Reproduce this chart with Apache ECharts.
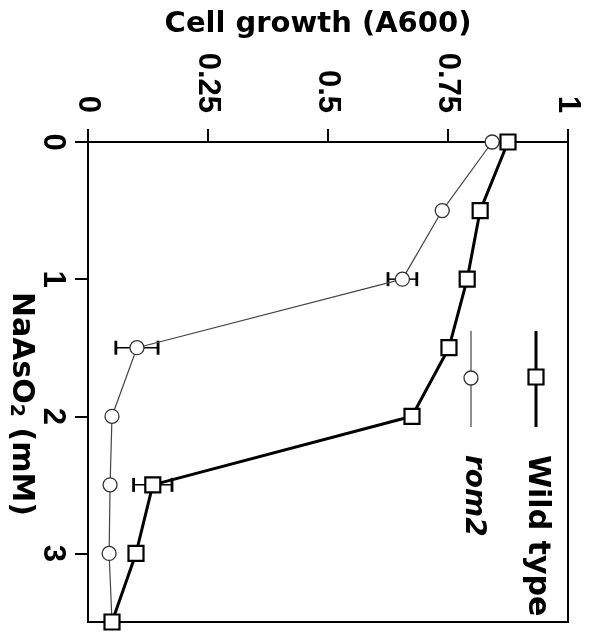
<!DOCTYPE html>
<html>
<head>
<meta charset="utf-8">
<script src="https://cdn.jsdelivr.net/npm/echarts@6/dist/echarts.min.js"></script>
<style>
  html, body { margin: 0; padding: 0; background: #fff; }
  #chart { width: 591px; height: 632px; }
</style>
</head>
<body>
<div id="chart"></div>
<script>
// ---- data ----
const dose = [0, 0.5, 1, 1.5, 2, 2.5, 3, 3.5];               // NaAsO2 (mM)
const wildType = [0.875, 0.817, 0.79, 0.752, 0.675, 0.135, 0.1, 0.05];
const rom2 = [0.842, 0.738, 0.655, 0.102, 0.05, 0.046, 0.044, 0.05];
const wildTypeErr = [0, 0, 0, 0, 0, 0.04, 0, 0];
const rom2Err = [0, 0, 0.03, 0.044, 0, 0, 0, 0];
const growthTicks = [0, 0.25, 0.5, 0.75, 1];
const doseTicks = [0, 1, 2, 3];
const seriesNames = ['Wild type', 'rom2'];
const xTitle = 'Cell growth (A600)';

// ---- build ----
const pts = (vals) => vals.map((v, i) => [v, dose[i]]);
const errPts = (vals, errs) => vals.map((v, i) => [v, dose[i], errs[i]]).filter(d => d[2] > 0);

function errorBar(params, api) {
  const v = api.value(0), d = api.value(1), e = api.value(2);
  const lo = api.coord([v - e, d]);
  const hi = api.coord([v + e, d]);
  const h = 7;
  const st = { stroke: '#000', lineWidth: 2.8 };
  return {
    type: 'group',
    children: [
      { type: 'line', shape: { x1: lo[0], y1: lo[1], x2: hi[0], y2: hi[1] }, style: { stroke: '#000', lineWidth: 1.5 } },
      { type: 'line', shape: { x1: lo[0], y1: lo[1] - h, x2: lo[0], y2: lo[1] + h }, style: st },
      { type: 'line', shape: { x1: hi[0], y1: hi[1] - h, x2: hi[0], y2: hi[1] + h }, style: st }
    ]
  };
}

const chart = echarts.init(document.getElementById('chart'), null, { renderer: 'canvas' });
const tickFont = { fontSize: 31, fontWeight: 'bold', fontFamily: 'Liberation Sans', color: '#000' };
const titleFont = 'DejaVu Sans';

chart.setOption({
  animation: false,
  backgroundColor: '#fff',
  grid: { left: 88, right: 23, top: 142, bottom: 10, show: true, borderColor: '#000', borderWidth: 2, backgroundColor: 'transparent' },
  xAxis: {
    type: 'value', position: 'top', min: 0, max: 1, interval: 0.25,
    axisLine: { show: true, lineStyle: { color: '#000', width: 2 } },
    axisTick: { show: true, length: 13, lineStyle: { color: '#000', width: 2 }, customValues: growthTicks },
    axisLabel: Object.assign({ rotate: -90, margin: 29, customValues: growthTicks, formatter: v => String(v) }, tickFont),
    splitLine: { show: false }
  },
  yAxis: {
    type: 'value', inverse: true, min: 0, max: 3.5, interval: 1,
    axisLine: { show: true, lineStyle: { color: '#000', width: 2 } },
    axisTick: { show: true, length: 13, lineStyle: { color: '#000', width: 2 }, customValues: doseTicks },
    axisLabel: Object.assign({ rotate: -90, margin: 20, customValues: doseTicks, formatter: v => String(v) }, tickFont),
    splitLine: { show: false }
  },
  series: [
    {
      type: 'custom', name: 'rom2 err', renderItem: errorBar, data: errPts(rom2, rom2Err), z: 1, clip: false
    },
    {
      type: 'custom', name: 'wt err', renderItem: errorBar, data: errPts(wildType, wildTypeErr), z: 1, clip: false
    },
    {
      type: 'line', name: seriesNames[1], data: pts(rom2), clip: false, z: 2,
      symbol: 'circle', symbolSize: 14,
      lineStyle: { color: '#444', width: 1.2 },
      itemStyle: { color: '#fff', borderColor: '#333', borderWidth: 1.3 }
    },
    {
      type: 'line', name: seriesNames[0], data: pts(wildType), clip: false, z: 3,
      symbol: 'rect', symbolSize: 15,
      lineStyle: { color: '#000', width: 3 },
      itemStyle: { color: '#fff', borderColor: '#000', borderWidth: 2.2 }
    }
  ],
  graphic: [
    { type: 'text', x: 318, y: 24, style: { text: xTitle, fontSize: 29, fontWeight: 'bold', fontFamily: titleFont, fill: '#000', align: 'center', verticalAlign: 'middle' } },
    { type: 'text', x: 21, y: 404, rotation: -Math.PI / 2,
      style: { text: 'NaAsO{sub|2} (mM)', fontSize: 30, fontWeight: 'bold', fontFamily: titleFont, fill: '#000', align: 'center', verticalAlign: 'middle',
        rich: { sub: { fontSize: 19, fontWeight: 'bold', fontFamily: titleFont, fill: '#000', verticalAlign: 'bottom' } } } },
    // legend: Wild type
    { type: 'line', shape: { x1: 536, y1: 331, x2: 536, y2: 427 }, style: { stroke: '#000', lineWidth: 3 } },
    { type: 'rect', shape: { x: 528.5, y: 369.5, width: 15, height: 15 }, style: { fill: '#fff', stroke: '#000', lineWidth: 2.2 } },
    { type: 'text', x: 537, y: 455, rotation: -Math.PI / 2, style: { text: seriesNames[0], fontSize: 30, fontWeight: 'bold', fontFamily: titleFont, fill: '#000', align: 'left', verticalAlign: 'middle' } },
    // legend: rom2
    { type: 'line', shape: { x1: 471, y1: 331, x2: 471, y2: 427 }, style: { stroke: '#444', lineWidth: 1.2 } },
    { type: 'circle', shape: { cx: 471, cy: 378, r: 7 }, style: { fill: '#fff', stroke: '#333', lineWidth: 1.3 } },
    { type: 'text', x: 473, y: 455, rotation: -Math.PI / 2, style: { text: seriesNames[1], fontSize: 28, fontWeight: 'bold', fontStyle: 'italic', fontFamily: titleFont, fill: '#000', align: 'left', verticalAlign: 'middle' } }
  ]
});
</script>
</body>
</html>
